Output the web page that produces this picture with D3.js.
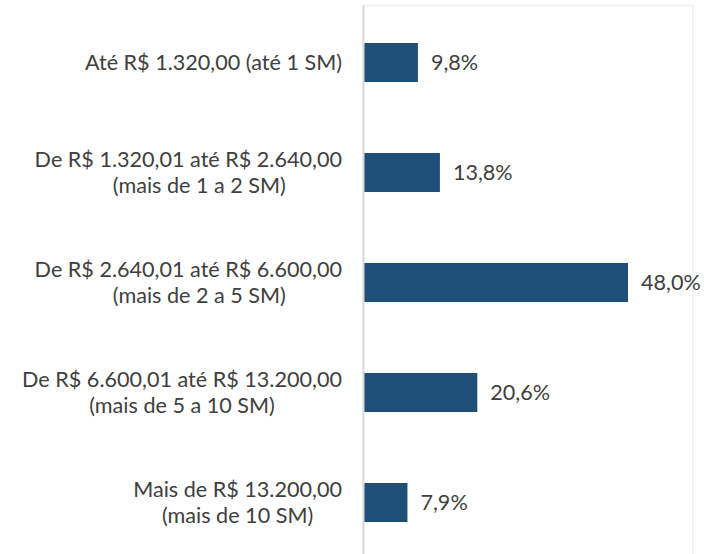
<!DOCTYPE html>
<html>
<head>
<meta charset="utf-8">
<script src="https://cdn.jsdelivr.net/npm/d3@7"></script>
<style>
  html, body { margin: 0; padding: 0; background: #fff; }
  svg { display: block; font-family: Lato, 'Open Sans', sans-serif; }
</style>
</head>
<body>
<div id="chart"></div>
<script>
// faixas de renda (linhas de cada rótulo)
const categories = [
  ['Até R$ 1.320,00 (até 1 SM)'],
  ['De R$ 1.320,01 até R$ 2.640,00', '\u00a0\u00a0\u00a0\u00a0(mais de 1 a 2 SM)'],
  ['De R$ 2.640,01 até R$ 6.600,00', '\u00a0\u00a0\u00a0\u00a0(mais de 2 a 5 SM)'],
  ['De R$ 6.600,01 até R$ 13.200,00', '(mais de 5 a 10 SM)'],
  ['Mais de R$ 13.200,00', '(mais de 10 SM)'],
];
const values = [9.8, 13.8, 48.0, 20.6, 7.9];
const valueLabels = ['9,8%', '13,8%', '48,0%', '20,6%', '7,9%'];

const size = { width: 704, height: 554 };
const margin = { top: 7.5, right: 10, bottom: -3.5, left: 364 };
const fontSize = 21.6;
const lineHeight = 26;

const data = categories.map((lines, i) => ({
  key: i,
  lines,
  value: values[i],
  label: valueLabels[i],
}));

const svg = d3
  .select('#chart')
  .append('svg')
  .attr('width', size.width)
  .attr('height', size.height);

const x = d3
  .scaleLinear()
  .domain([0, 60])
  .range([margin.left, size.width - margin.right]);

const y = d3
  .scaleBand()
  .domain(data.map((d) => d.key))
  .range([margin.top, size.height - margin.bottom])
  .paddingInner(0.645)
  .paddingOuter(0.3225);

// plot area border
svg
  .append('rect')
  .attr('x', x(0) - 1)
  .attr('y', 5.5)
  .attr('width', x(60) - x(0))
  .attr('height', size.height)
  .attr('fill', 'none')
  .attr('stroke', '#eeeeee')
  .attr('stroke-width', 1.5);

svg
  .selectAll('.bar')
  .data(data)
  .enter()
  .append('rect')
  .attr('class', 'bar')
  .attr('x', x(0))
  .attr('y', (d) => y(d.key))
  .attr('width', (d) => x(d.value) - x(0))
  .attr('height', y.bandwidth())
  .attr('fill', '#1f4e79');

// category axis line
svg
  .append('line')
  .attr('x1', x(0) - 0.5)
  .attr('x2', x(0) - 0.5)
  .attr('y1', 5.5)
  .attr('y2', size.height)
  .attr('stroke', '#d9d9d9')
  .attr('stroke-width', 2);

svg
  .selectAll('.value')
  .data(data)
  .enter()
  .append('text')
  .attr('class', 'value')
  .attr('x', (d) => x(d.value) + 13)
  .attr('y', (d) => y(d.key) + y.bandwidth() / 2)
  .attr('dy', '0.36em')
  .attr('fill', '#404040')
  .style('font-size', `${fontSize}px`)
  .text((d) => d.label);

// category labels: lines centred on each other, block right-aligned to the axis
const labelRight = x(0) - 22;
const groups = svg
  .selectAll('.cat')
  .data(data)
  .enter()
  .append('text')
  .attr('class', 'cat')
  .attr('fill', '#404040')
  .attr('text-anchor', 'middle')
  .style('font-size', `${fontSize}px`);

groups.each(function (d) {
  const t = d3.select(this);
  const mid = y(d.key) + y.bandwidth() / 2;
  d.lines.forEach((line, i) => {
    t.append('tspan')
      .attr('y', mid + (i - (d.lines.length - 1) / 2) * lineHeight)
      .attr('dy', '0.36em')
      .text(line);
  });
  const widths = t.selectAll('tspan').nodes().map((n) => n.getComputedTextLength());
  t.selectAll('tspan').attr('x', labelRight - d3.max(widths) / 2);
});
</script>
</body>
</html>
